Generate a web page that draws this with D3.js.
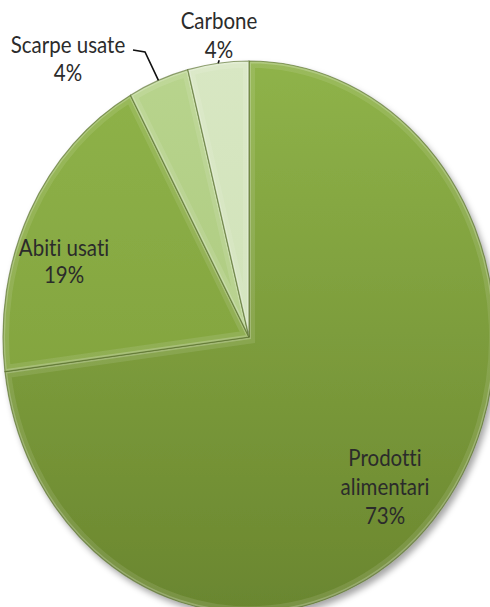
<!DOCTYPE html>
<html>
<head>
<meta charset="utf-8">
<script src="https://cdn.jsdelivr.net/npm/d3@7.9.0/dist/d3.min.js"></script>
<style>
  html, body { margin: 0; padding: 0; background: #fff; }
  svg { display: block; }
  .lbl { font-family: Lato, "Noto Sans", sans-serif; font-size: 20.5px; fill: #2b2b2b;
         font-variant-ligatures: none; font-feature-settings: "liga" 0, "clig" 0; }
</style>
</head>
<body>
<svg id="chart" width="490" height="607"></svg>
<script>
// ---------------------------------------------------------
// Data
// ---------------------------------------------------------
const categories = ["Prodotti alimentari", "Abiti usati", "Scarpe usate", "Carbone"];
const values = [73, 19, 4, 4];
const labelLines = [["Prodotti", "alimentari", "73%"], ["Abiti usati", "19%"], ["Scarpe usate", "4%"], ["Carbone", "4%"]];

// ---------------------------------------------------------
// Layout
// ---------------------------------------------------------
const width = 490, height = 607;
const cx = 249, cy = 337;
const rx = 246, ry = 276;
const sy = ry / rx;

const topColors = ["#8fb349", "#8fb349", "#b8d48d", "#d8e7c3"];
const botColors = ["#6a862f", "#7b9a39", "#a6c477", "#c9deae"];

// label anchor (center of first line baseline) and line spacing
const labelAt = [
  { x: 385, y: 466, dy: 29 },
  { x: 64, y: 256, dy: 27 },
  { x: 68, y: 53, dy: 28 },
  { x: 219, y: 29, dy: 29 }
];

const svg = d3.select("#chart");
const defs = svg.append("defs");

const shadow = defs.append("filter").attr("id", "shadow")
  .attr("x", "-10%").attr("y", "-10%").attr("width", "125%").attr("height", "125%");
shadow.append("feDropShadow")
  .attr("dx", 3).attr("dy", 4).attr("stdDeviation", 3)
  .attr("flood-color", "#000").attr("flood-opacity", 0.35);

categories.forEach((c, i) => {
  const g = defs.append("linearGradient").attr("id", "grad" + i)
    .attr("gradientUnits", "userSpaceOnUse")
    .attr("x1", 0).attr("y1", -rx).attr("x2", 0).attr("y2", rx);
  g.append("stop").attr("offset", "0%").attr("stop-color", topColors[i]);
  g.append("stop").attr("offset", "100%").attr("stop-color", botColors[i]);
});

const pie = d3.pie().sort(null).value(d => d)(values);
const arc = d3.arc().innerRadius(0).outerRadius(rx);

const pieG = svg.append("g")
  .attr("transform", `translate(${cx},${cy}) scale(1,${sy})`)
  .attr("filter", "url(#shadow)");

pie.forEach((p, i) => {
  defs.append("clipPath").attr("id", "clip" + i)
    .append("path").attr("d", arc(p));
});

const slices = pieG.selectAll("g.slice")
  .data(pie)
  .join("g")
  .attr("class", "slice");

slices.append("path")
  .attr("d", arc)
  .attr("fill", (d, i) => `url(#grad${i})`);

// bevel: soft light band along the inner edges
slices.append("path")
  .attr("d", arc)
  .attr("fill", "none")
  .attr("stroke", "#ffffff")
  .attr("stroke-opacity", 0.1)
  .attr("stroke-width", 12)
  .attr("clip-path", (d, i) => `url(#clip${i})`);

slices.append("path")
  .attr("d", arc)
  .attr("fill", "none")
  .attr("stroke", "#ffffff")
  .attr("stroke-opacity", 0.22)
  .attr("stroke-width", 4)
  .attr("clip-path", (d, i) => `url(#clip${i})`);

slices.append("path")
  .attr("d", arc)
  .attr("fill", "none")
  .attr("stroke", "#4f6523")
  .attr("stroke-opacity", 0.6)
  .attr("stroke-width", 1.2)
  .attr("vector-effect", "non-scaling-stroke");

// point on the ellipse edge at a pie angle
function edgePoint(a, f = 1) {
  return [cx + Math.sin(a) * rx * f, cy - Math.cos(a) * ry * f];
}

// ---------------------------------------------------------
// Labels
// ---------------------------------------------------------
const labelG = svg.append("g");
labelLines.forEach((lines, i) => {
  const pos = labelAt[i];
  const t = labelG.append("text")
    .attr("class", "lbl")
    .attr("text-anchor", "middle")
    .attr("transform", `translate(${pos.x},${pos.y}) scale(1,1.1)`);
  lines.forEach((s, k) => {
    t.append("tspan").attr("x", 0).attr("y", k * pos.dy / 1.1).text(s);
  });
});

// leader lines for the small slices
const midA = p => (p.startAngle + p.endAngle) / 2;
const e2 = edgePoint(midA(pie[2]));
svg.append("polyline")
  .attr("points", [[133, 50], [145, 52], e2].map(d => d.join(",")).join(" "))
  .attr("fill", "none").attr("stroke", "#111").attr("stroke-width", 1.6);

const e3 = edgePoint(midA(pie[3]));
svg.append("line")
  .attr("x1", e3[0] + 1).attr("y1", e3[1] - 3)
  .attr("x2", e3[0]).attr("y2", e3[1])
  .attr("stroke", "#111").attr("stroke-width", 1.6);
</script>
</body>
</html>
